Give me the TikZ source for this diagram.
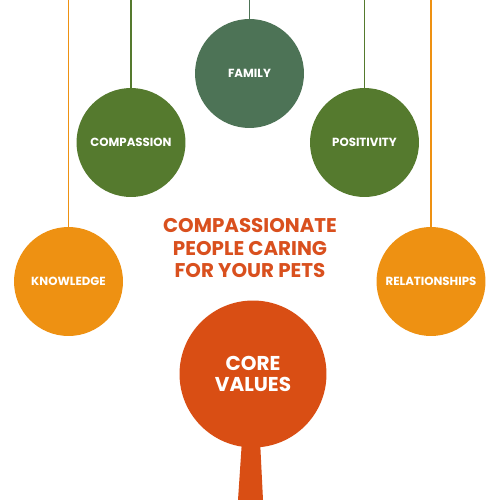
\documentclass[tikz,border=0pt]{standalone}
\usepackage{fontspec}
\setmainfont{Poppins}
\definecolor{orng}{HTML}{EE9112}
\definecolor{grn}{HTML}{557A2E}
\definecolor{fam}{HTML}{4D7356}
\definecolor{core}{HTML}{D94E14}
\definecolor{ttl}{HTML}{D9501E}
\begin{document}
\begin{tikzpicture}[x=0.02cm,y=-0.02cm,
  ball/.style={circle,inner sep=0pt,minimum size=2.18cm,text=white,font=\bfseries\fontsize{6.7}{8}\selectfont},
  string/.style={line width=1.1pt}]
\useasboundingbox[fill=white] (0,0) rectangle (500,500);
% hanging balls
\coordinate (tk) at (68.5,0);
\coordinate (tc) at (131,0);
\coordinate (tf) at (249.5,0);
\coordinate (tp) at (364.5,0);
\coordinate (tr) at (431,0);
\node[ball,fill=fam] (family) at (249.5,73.5) {FAMILY};
\node[ball,fill=grn] (comp) at (131,142.5) {COMPASSION};
\node[ball,fill=grn] (posi) at (364.5,142.5) {POSITIVITY};
\node[ball,fill=orng] (know) at (68.5,281.5) {KNOWLEDGE};
\node[ball,fill=orng] (rel) at (431,281.5) {RELATIONSHIPS};
\draw[string,fam] (tf) -- (family.north);
\draw[string,grn] (tc) -- (comp.north);
\draw[string,grn] (tp) -- (posi.north);
\draw[string,orng] (tk) -- (know.north);
\draw[string,orng] (tr) -- (rel.north);
% title
\node[text=ttl,align=center,font=\bfseries\fontsize{11.3}{12.8}\selectfont] (title) at (250,248) {COMPASSIONATE\\PEOPLE CARING\\FOR YOUR PETS};
% core values
\fill[core] (242,440) -- (260,440) -- (263,500) -- (238,500) -- cycle;
\node[circle,inner sep=0pt,minimum size=2.94cm,fill=core,text=white,align=center,font=\bfseries\fontsize{11.4}{12.4}\selectfont] (corev) at (253,374) {CORE\\VALUES};
\end{tikzpicture}
\end{document}
